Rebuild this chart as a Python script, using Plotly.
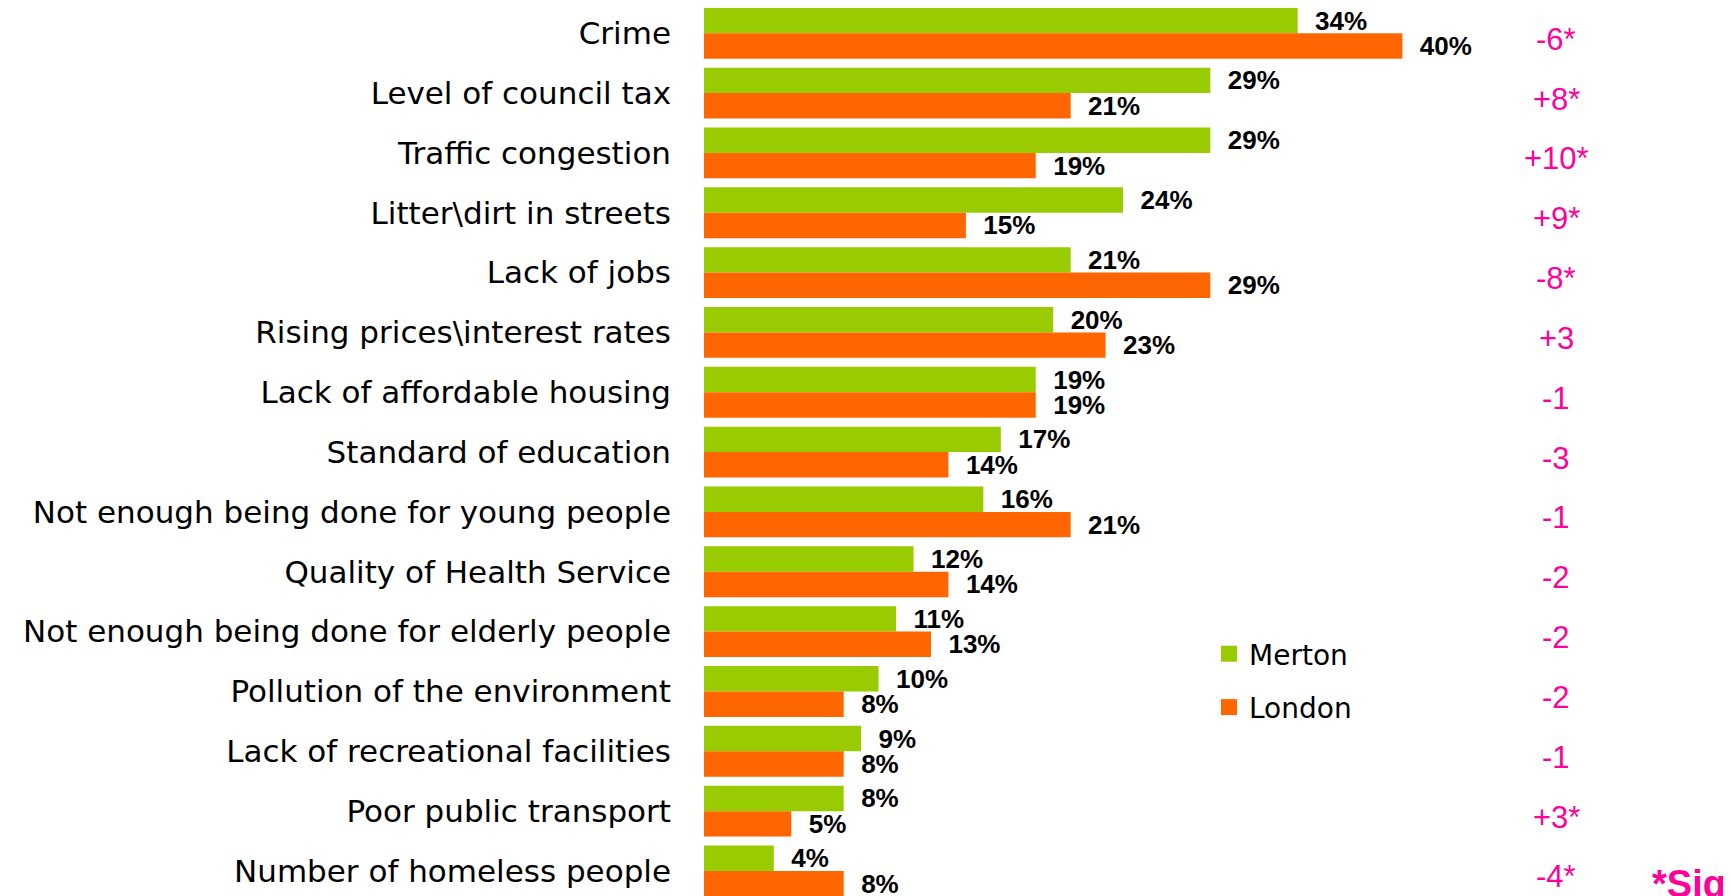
import plotly.graph_objects as go

categories = [
    "Crime",
    "Level of council tax",
    "Traffic congestion",
    "Litter\\dirt in streets",
    "Lack of jobs",
    "Rising prices\\interest rates",
    "Lack of affordable housing",
    "Standard of education",
    "Not enough being done for young people",
    "Quality of Health Service",
    "Not enough being done for elderly people",
    "Pollution of the environment",
    "Lack of recreational facilities",
    "Poor public transport",
    "Number of homeless people",
]
merton = [34, 29, 29, 24, 21, 20, 19, 17, 16, 12, 11, 10, 9, 8, 4]
london = [40, 21, 19, 15, 29, 23, 19, 14, 21, 14, 13, 8, 8, 5, 8]
differences = ["-6*", "+8*", "+10*", "+9*", "-8*", "+3", "-1", "-3", "-1",
               "-2", "-2", "-2", "-1", "+3*", "-4*"]

GREEN = "#99CC00"
ORANGE = "#FF6600"
PINK = "#FF0099"

# page has an 8px body margin: size the figure so that it fills the window
OFF = 8
W, H = 1731 - OFF, 896 - OFF
ML, MR, MT, MB = 704 - OFF, 0, 0, 0
PW, PH = W - ML - MR, H - MT - MB
px_per_pct = 17.46
x_max = PW / px_per_pct
row_pitch = 59.84
y_top = -0.5 + (OFF - 3.3) / row_pitch
y_bottom = y_top + PH / row_pitch


def paper_x(page_px):
    return (page_px - OFF - ML) / PW


def paper_y(page_py):
    return (H - (page_py - OFF) - MB) / PH


SANS = "Liberation Sans, Arial, sans-serif"
label_font = dict(family=SANS, size=26, color="black", weight="bold")

fig = go.Figure()
for name, vals, col in [("Merton", merton, GREEN), ("London", london, ORANGE)]:
    fig.add_trace(go.Bar(
        name=name, y=categories, x=vals, orientation="h",
        marker=dict(color=col, line=dict(width=0)),
        text=[f"{v}%" for v in vals], texttemplate="\u00a0\u00a0%{text}",
        textposition="outside", constraintext="none", cliponaxis=False,
        textfont=label_font, showlegend=False, legendgroup=name,
    ))

# difference column
diff_x = (1556 - OFF - ML) / px_per_pct
for cat, d in zip(categories, differences):
    fig.add_annotation(
        x=diff_x, y=cat, text=d, showarrow=False, xanchor="center",
        yanchor="middle", yshift=-6,
        font=dict(family=SANS, size=31, color=PINK),
    )

# legend entries
for name, col in [("Merton", GREEN), ("London", ORANGE)]:
    fig.add_trace(go.Scatter(
        x=[None], y=[None], mode="markers", name=name,
        marker=dict(symbol="square", size=16, color=col),
        legendgroup=name + "_leg",
    ))

fig.add_annotation(
    text="<b>*Sig</b>", xref="paper", yref="paper",
    x=paper_x(1650), y=paper_y(884),
    xanchor="left", yanchor="middle", showarrow=False,
    font=dict(family=SANS, size=38, color=PINK),
)

fig.update_layout(
    width=W, height=H,
    margin=dict(l=ML, r=MR, t=MT, b=MB, pad=0),
    paper_bgcolor="white", plot_bgcolor="white",
    barmode="group", bargap=0.15, bargroupgap=0,
    xaxis=dict(range=[0, x_max], visible=False, fixedrange=True),
    yaxis=dict(
        type="category", categoryorder="array", categoryarray=categories,
        range=[y_bottom, y_top], showgrid=False, zeroline=False, showline=False,
        ticks="", ticklabelstandoff=32,
        tickfont=dict(family="DejaVu Sans, sans-serif", size=31, color="black"),
    ),
    legend=dict(
        x=paper_x(1209), y=paper_y(629),
        xanchor="left", yanchor="top",
        font=dict(family="DejaVu Sans, sans-serif", size=28, color="black"),
        traceorder="grouped", tracegroupgap=14, bgcolor="rgba(0,0,0,0)",
        itemwidth=30,
    ),
)

fig.write_html("out.html")
